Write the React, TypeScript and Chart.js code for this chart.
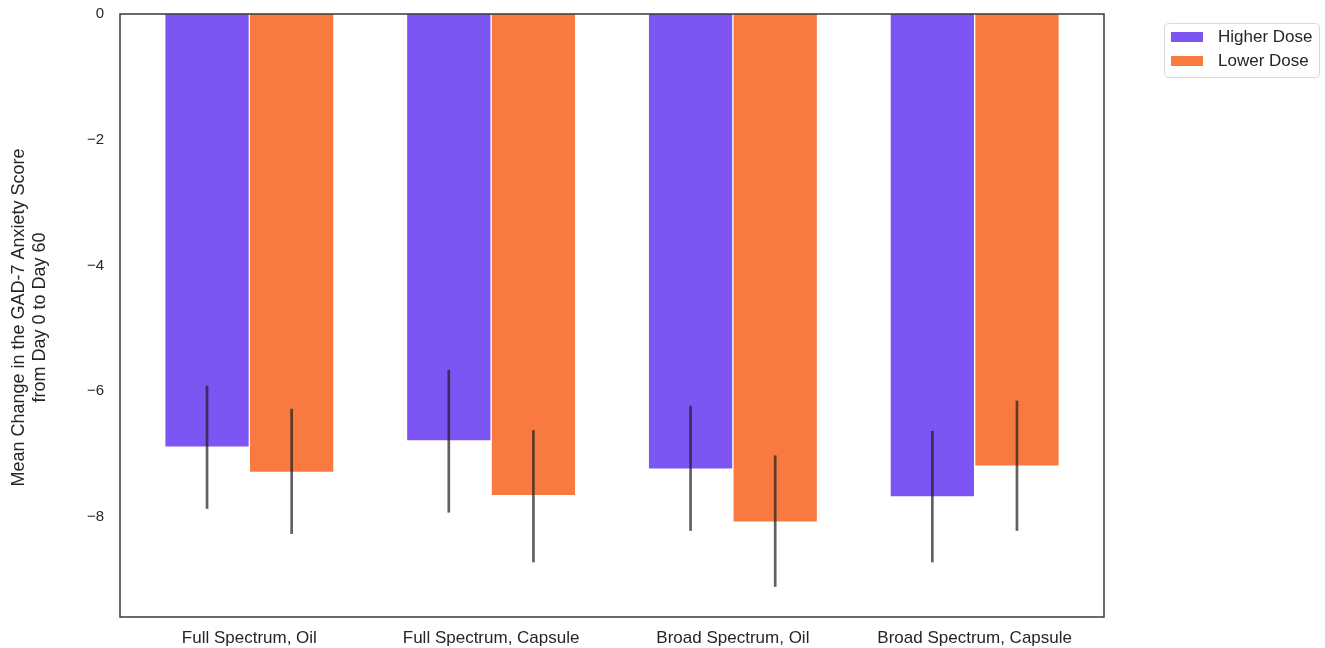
import React, { useEffect, useRef } from "react";
import { Chart, registerables } from "chart.js";

Chart.register(...registerables);

const categories = [
  "Full Spectrum, Oil",
  "Full Spectrum, Capsule",
  "Broad Spectrum, Oil",
  "Broad Spectrum, Capsule",
];
const seriesNames = ["Higher Dose", "Lower Dose"];
const higherDose = [-6.89, -6.79, -7.24, -7.68];
const lowerDose = [-7.29, -7.66, -8.08, -7.19];
const higherErrTop = [-5.91, -5.66, -6.23, -6.63];
const higherErrBottom = [-7.87, -7.93, -8.22, -8.72];
const lowerErrTop = [-6.28, -6.62, -7.02, -6.15];
const lowerErrBottom = [-8.27, -8.72, -9.11, -8.22];
const yTicks = [0, -2, -4, -6, -8];
const yTitle = ["Mean Change in the GAD-7 Anxiety Score", "from Day 0 to Day 60"];

const PURPLE = "rgb(124,85,243)";
const ORANGE = "rgb(249,122,64)";
const TEXT = "#262626";
const FONT = "'Liberation Sans', Arial, sans-serif";
const OFFSET = 0.175;
const BAR_W = 0.35;

const overlayPlugin = {
  id: "overlay",
  afterDatasetsDraw(chart: any) {
    const { ctx, scales } = chart;
    const xs = scales.x;
    const ys = scales.y;
    const errs = [
      { top: higherErrTop, bottom: higherErrBottom, off: -OFFSET },
      { top: lowerErrTop, bottom: lowerErrBottom, off: OFFSET },
    ];
    ctx.save();
    ctx.strokeStyle = "rgba(30,30,30,0.7)";
    ctx.lineWidth = 2.7;
    errs.forEach((e) => {
      e.top.forEach((t, i) => {
        const x = xs.getPixelForValue(i + e.off);
        ctx.beginPath();
        ctx.moveTo(x, ys.getPixelForValue(t));
        ctx.lineTo(x, ys.getPixelForValue(e.bottom[i]));
        ctx.stroke();
      });
    });
    ctx.restore();
  },
  afterDraw(chart: any) {
    const { ctx, chartArea } = chart;
    ctx.save();
    ctx.strokeStyle = "#3a3a3a";
    ctx.lineWidth = 1.5;
    ctx.strokeRect(chartArea.left, chartArea.top, chartArea.right - chartArea.left, chartArea.bottom - chartArea.top);
    ctx.fillStyle = TEXT;
    ctx.font = `18px ${FONT}`;
    ctx.textAlign = "center";
    ctx.textBaseline = "middle";
    const cy = (chartArea.top + chartArea.bottom) / 2 + 2;
    ctx.translate(0, cy);
    ctx.rotate(-Math.PI / 2);
    ctx.fillText(yTitle[0], 0, 19);
    ctx.fillText(yTitle[1], 0, 40);
    ctx.restore();

    ctx.save();
    const lx = 1164, ly = 23, lw = 155, lh = 54;
    ctx.beginPath();
    ctx.roundRect(lx + 0.5, ly + 0.5, lw, lh, 4);
    ctx.fillStyle = "rgba(255,255,255,0.9)";
    ctx.fill();
    ctx.strokeStyle = "#d9d9d9";
    ctx.lineWidth = 1;
    ctx.stroke();
    const colors = [PURPLE, ORANGE];
    ctx.font = `17px ${FONT}`;
    ctx.textAlign = "left";
    ctx.textBaseline = "middle";
    chart.data.datasets.forEach((ds: any, i: number) => {
      const yy = 37 + i * 24;
      ctx.fillStyle = colors[i];
      ctx.fillRect(1171, yy - 5, 32, 10);
      ctx.fillStyle = TEXT;
      ctx.fillText(ds.label, 1218, yy);
    });
    ctx.restore();
  },
};

export default function App() {
  const ref = useRef<HTMLCanvasElement | null>(null);
  useEffect(() => {
    if (!ref.current) return;
    const chart = new Chart(ref.current, {
      type: "bar",
      data: {
        datasets: [
          {
            label: seriesNames[0],
            data: higherDose.map((v, i) => ({ x: i - OFFSET, y: v })),
            backgroundColor: PURPLE,
            borderColor: "rgba(255,255,255,0.7)",
            borderWidth: 1,
            barThickness: BAR_W * (984 / 4.07),
            grouped: false,
          } as any,
          {
            label: seriesNames[1],
            data: lowerDose.map((v, i) => ({ x: i + OFFSET, y: v })),
            backgroundColor: ORANGE,
            borderColor: "rgba(255,255,255,0.7)",
            borderWidth: 1,
            barThickness: BAR_W * (984 / 4.07),
            grouped: false,
          } as any,
        ],
      },
      options: {
        responsive: false,
        animation: false,
        layout: { padding: { top: 14, right: 221, bottom: 0, left: 0 } },
        plugins: {
          legend: { display: false },
          tooltip: { enabled: false },
          title: { display: false },
        },
        scales: {
          x: {
            type: "linear",
            offset: false,
            min: -0.535,
            max: 3.535,
            grid: { display: false, drawTicks: false },
            border: { display: false },
            afterBuildTicks: (s: any) => {
              s.ticks = categories.map((_, i) => ({ value: i }));
            },
            afterFit: (s: any) => {
              s.height = 31;
              s.paddingLeft = 0;
              s.paddingRight = 0;
            },
            ticks: {
              autoSkip: false,
              maxRotation: 0,
              padding: 11,
              color: TEXT,
              font: { family: FONT, size: 17 },
              callback: (v: any) => categories[Math.round(Number(v))] ?? "",
            },
          },
          y: {
            type: "linear",
            min: -9.59,
            max: 0,
            grid: { display: false, drawTicks: false },
            border: { display: false },
            afterBuildTicks: (s: any) => {
              s.ticks = yTicks.map((v) => ({ value: v }));
            },
            afterFit: (s: any) => {
              s.width = 120;
              s.paddingTop = 0;
              s.paddingBottom = 0;
            },
            ticks: {
              padding: 16,
              color: TEXT,
              font: { family: FONT, size: 15 },
              callback: (v: any) => {
                const n = Number(v);
                return n < 0 ? "\u2212" + Math.abs(n) : String(n);
              },
            },
          },
        },
      },
      plugins: [overlayPlugin],
    });
    return () => chart.destroy();
  }, []);
  return (
    <div style={{ position: "fixed", left: 0, top: 0, width: 1325, height: 648, background: "#fff" }}>
      <canvas ref={ref} width={1325} height={648} style={{ display: "block" }} />
    </div>
  );
}
